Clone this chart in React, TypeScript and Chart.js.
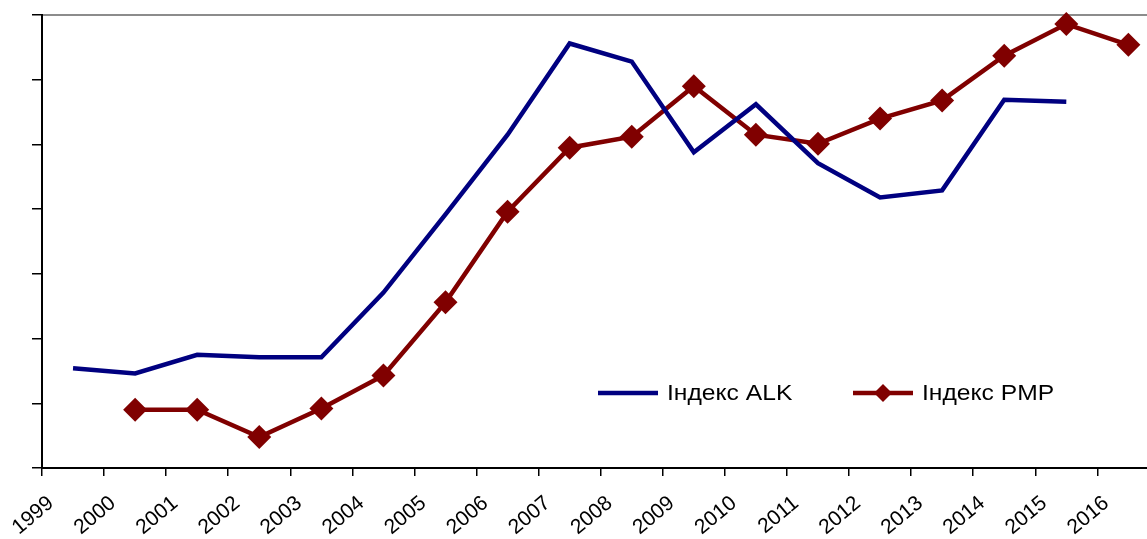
import React, { useEffect, useRef } from 'react';
import { Chart, registerables } from 'chart.js';

Chart.register(...registerables);

// Category labels (years) shown at the axis ticks
const years = ['1999', '2000', '2001', '2002', '2003', '2004', '2005', '2006', '2007', '2008', '2009', '2010', '2011', '2012', '2013', '2014', '2015', '2016'];

// Index ALK: 1999–2015
const alkYears = ['1999', '2000', '2001', '2002', '2003', '2004', '2005', '2006', '2007', '2008', '2009', '2010', '2011', '2012', '2013', '2014', '2015'];
const alkValues = [1.54, 1.46, 1.75, 1.71, 1.71, 2.71, 3.92, 5.15, 6.56, 6.28, 4.88, 5.62, 4.71, 4.18, 4.29, 5.69, 5.66];

// Index PMP: 2000–2016
const pmpYears = ['2000', '2001', '2002', '2003', '2004', '2005', '2006', '2007', '2008', '2009', '2010', '2011', '2012', '2013', '2014', '2015', '2016'];
const pmpValues = [0.90, 0.90, 0.48, 0.92, 1.43, 2.56, 3.96, 4.95, 5.12, 5.90, 5.15, 5.01, 5.40, 5.68, 6.37, 6.86, 6.54];

const yTickValues = [0, 1, 2, 3, 4, 5, 6, 7];

const FONT = '"Liberation Sans", Arial, Helvetica, sans-serif';

const toPoints = (ys: string[], vals: number[]) =>
  ys.map((y, i) => ({ x: years.indexOf(y) + 0.5, y: vals[i] }));

const insideLegend = {
  id: 'insideLegend',
  afterDraw(chart: any) {
    const { ctx, chartArea } = chart;
    ctx.save();
    ctx.font = `22px ${FONT}`;
    ctx.textBaseline = 'middle';
    ctx.textAlign = 'left';
    let x = chartArea.left + 556;
    const y = chartArea.top + 378;
    chart.data.datasets.forEach((ds: any) => {
      ctx.strokeStyle = ds.borderColor;
      ctx.lineWidth = 4.5;
      ctx.beginPath();
      ctx.moveTo(x, y);
      ctx.lineTo(x + 60, y);
      ctx.stroke();
      if (ds.pointStyle === 'rectRot') {
        const r = 9;
        const cx = x + 30;
        ctx.fillStyle = ds.pointBackgroundColor;
        ctx.beginPath();
        ctx.moveTo(cx - r, y);
        ctx.lineTo(cx, y - r);
        ctx.lineTo(cx + r, y);
        ctx.lineTo(cx, y + r);
        ctx.closePath();
        ctx.fill();
      }
      ctx.fillStyle = '#000';
      ctx.save();
      ctx.translate(x + 69, y + 1);
      ctx.scale(1.12, 1);
      ctx.fillText(ds.label, 0, 0);
      ctx.restore();
      x += 255;
    });
    ctx.restore();
  },
};

export default function App() {
  const ref = useRef<HTMLCanvasElement | null>(null);

  useEffect(() => {
    if (!ref.current) return;
    const chart = new Chart(ref.current, {
      type: 'line',
      data: {
        datasets: [
          {
            label: 'Індекс ALK',
            data: toPoints(alkYears, alkValues),
            borderColor: '#000080',
            backgroundColor: '#000080',
            borderWidth: 4.5,
            pointRadius: 0,
            tension: 0,
            clip: false as any,
          },
          {
            label: 'Індекс PMP',
            data: toPoints(pmpYears, pmpValues),
            borderColor: '#800000',
            backgroundColor: '#800000',
            borderWidth: 4.5,
            pointStyle: 'rectRot',
            pointRadius: 12,
            pointBackgroundColor: '#800000',
            pointBorderColor: '#800000',
            pointBorderWidth: 0,
            tension: 0,
            clip: false as any,
          },
        ],
      },
      options: {
        responsive: false,
        animation: false,
        layout: { autoPadding: false, padding: { top: 15, left: 0, right: 0, bottom: 0 } },
        plugins: {
          legend: { display: false },
          tooltip: { enabled: false },
        },
        scales: {
          x: {
            type: 'linear',
            position: 'bottom',
            min: 0,
            max: 17.8,
            afterBuildTicks: (scale: any) => {
              scale.ticks = years.map((_, i) => ({ value: i }));
            },
            afterFit: (scale: any) => {
              scale.height = 71;
              scale.paddingLeft = 0;
              scale.paddingRight = 0;
            },
            ticks: {
              autoSkip: false,
              maxRotation: 40,
              minRotation: 40,
              padding: 15,
              labelOffset: 9,
              color: '#000',
              font: { family: FONT, size: 21 },
              callback: (v: any) => years[v] ?? '',
            },
            grid: {
              drawOnChartArea: false,
              drawTicks: true,
              tickLength: 8,
              color: '#000',
              lineWidth: 1.5,
            },
            border: { display: true, color: '#000', width: 2 },
          },
          xTop: {
            type: 'linear',
            position: 'top',
            min: 0,
            max: 1,
            ticks: { display: false },
            grid: { drawOnChartArea: false, drawTicks: false },
            border: { display: true, color: '#8c8c8c', width: 2 },
            afterFit: (scale: any) => {
              scale.paddingLeft = 0;
              scale.paddingRight = 0;
            },
          },
          y: {
            type: 'linear',
            min: 0,
            max: 7,
            afterBuildTicks: (scale: any) => {
              scale.ticks = yTickValues.map((v) => ({ value: v }));
            },
            afterFit: (scale: any) => {
              scale.width = 42;
            },
            ticks: { display: false },
            grid: {
              drawOnChartArea: false,
              drawTicks: true,
              tickLength: 10,
              color: '#000',
              lineWidth: 1.5,
            },
            border: { display: true, color: '#000', width: 2 },
          },
        },
      },
      plugins: [insideLegend],
    });
    return () => chart.destroy();
  }, []);

  return (
    <div style={{ position: 'absolute', left: 0, top: 0, width: 1147, height: 539, background: '#fff' }}>
      <canvas ref={ref} width={1147} height={539} />
    </div>
  );
}
